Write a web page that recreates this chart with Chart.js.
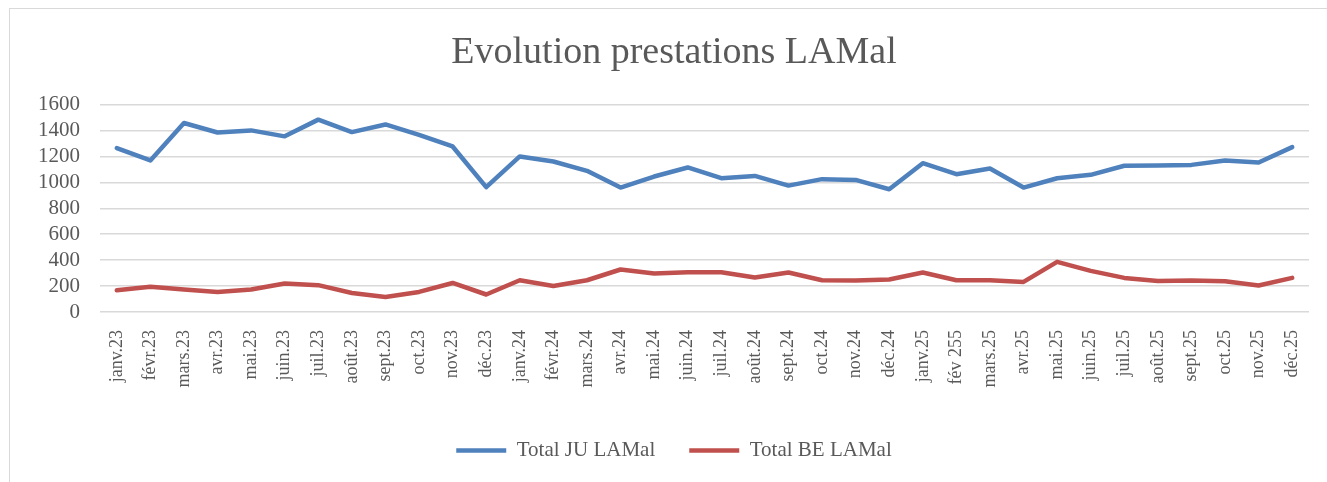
<!DOCTYPE html>
<html>
<head>
<meta charset="utf-8">
<script src="https://cdn.jsdelivr.net/npm/chart.js@4/dist/chart.umd.min.js"></script>
<style>
  html, body { margin: 0; padding: 0; background: #fff; overflow: hidden; }
  #frame { position: absolute; left: 9px; top: 8px; width: 1330px; height: 500px;
           border: 1px solid #d9d9d9; box-sizing: border-box; }
</style>
</head>
<body>
<div id="frame"><canvas id="chart"></canvas></div>
<script>
var months = ["janv.23","févr.23","mars.23","avr.23","mai.23","juin.23","juil.23","août.23","sept.23","oct.23","nov.23","déc.23",
              "janv.24","févr.24","mars.24","avr.24","mai.24","juin.24","juil.24","août.24","sept.24","oct.24","nov.24","déc.24",
              "janv.25","fév 255","mars.25","avr.25","mai.25","juin.25","juil.25","août.25","sept.25","oct.25","nov.25","déc.25"];
var totalJU = [1265,1169,1458,1385,1401,1355,1484,1388,1447,1367,1277,963,
               1200,1161,1089,960,1045,1115,1032,1050,975,1025,1019,947,
               1148,1063,1107,960,1032,1058,1128,1130,1135,1169,1153,1272];
var totalBE = [168,194,173,155,173,220,207,147,116,155,224,135,
               245,201,245,328,297,307,307,266,305,245,243,251,
               305,245,245,232,387,317,263,240,243,238,204,263];
var yTicks = [0,200,400,600,800,1000,1200,1400,1600];

var txt = '#595959';
var serif = '"Liberation Serif", "DejaVu Serif", serif';

var ctx = document.getElementById("chart").getContext('2d');
var chart = new Chart(ctx, {
    type: 'line',
    data: {
        labels: months,
        datasets: [
            { label: "Total JU LAMal", data: totalJU, borderColor: '#4f81bd', backgroundColor: '#4f81bd',
              borderWidth: 4.5, pointRadius: 0, borderCapStyle: 'round', borderJoinStyle: 'round', tension: 0 },
            { label: "Total BE LAMal", data: totalBE, borderColor: '#c0504d', backgroundColor: '#c0504d',
              borderWidth: 4.5, pointRadius: 0, borderCapStyle: 'round', borderJoinStyle: 'round', tension: 0 }
        ]
    },
    options: {
        responsive: true,
        maintainAspectRatio: false,
        animation: false,
        layout: { padding: { left: 29, right: 29, top: 0, bottom: 36 } },
        plugins: {
            title: { display: true, text: "Evolution prestations LAMal", color: txt,
                     font: { family: serif, size: 38, weight: 'normal' }, padding: { top: 21, bottom: 29 } },
            legend: { position: 'bottom',
                      labels: { color: txt, font: { family: serif, size: 21 }, usePointStyle: true,
                                pointStyle: 'line', pointStyleWidth: 50, padding: 34 } },
            tooltip: { enabled: false }
        },
        scales: {
            x: {
                offset: true,
                grid: { display: false },
                border: { display: false },
                ticks: { color: txt, font: { family: serif, size: 18 }, maxRotation: 90, minRotation: 90,
                         autoSkip: false, padding: 10 },
                afterFit: function(scale) { scale.height = 94; }
            },
            y: {
                min: 0, max: 1600,
                afterBuildTicks: function(scale) { scale.ticks = yTicks.map(function(v){ return { value: v }; }); },
                afterFit: function(scale) { scale.width = 61; },
                grid: { color: '#d9d9d9', lineWidth: 1.5, drawTicks: false },
                border: { display: false },
                ticks: { color: txt, font: { family: serif, size: 21 }, padding: 20, autoSkip: false,
                         callback: function(v) { return String(v); } }
            }
        }
    }
});
</script>
</body>
</html>
